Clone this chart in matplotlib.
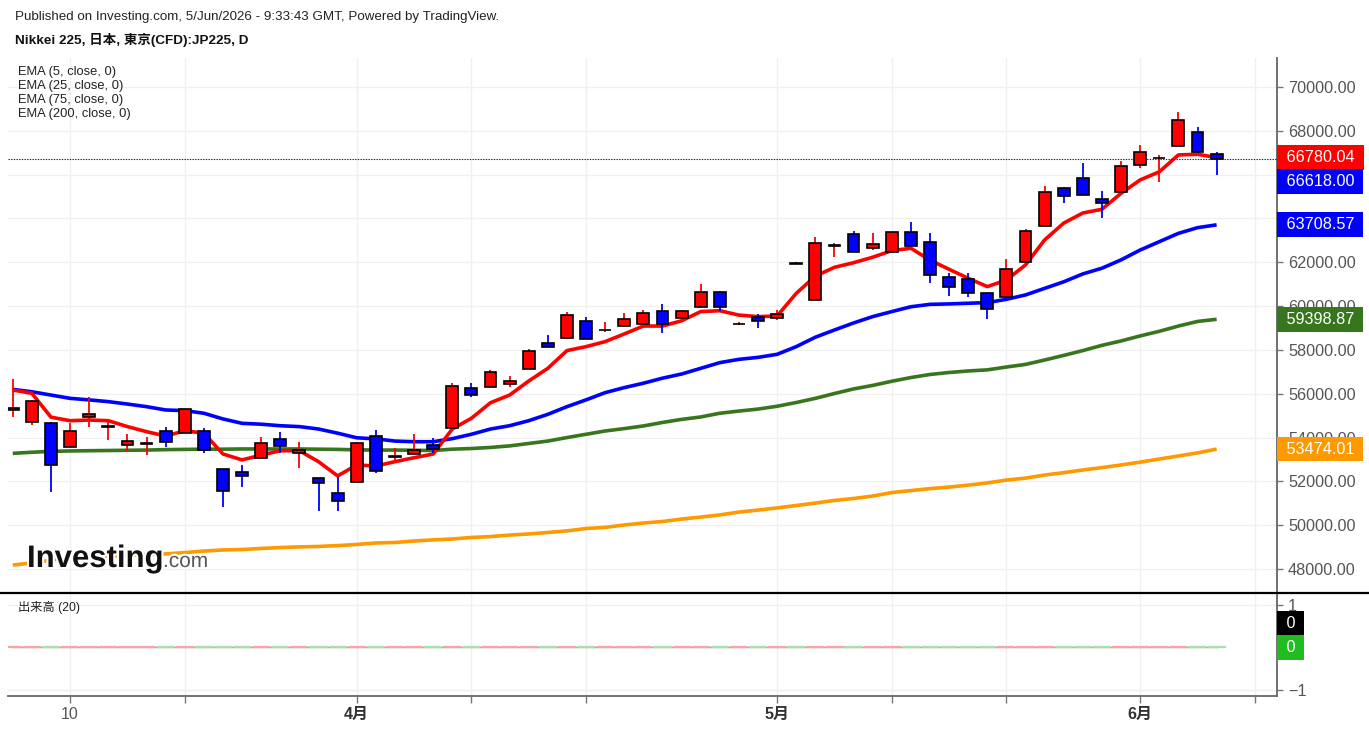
"""Nikkei 225 CFD daily candles with EMA 5/25/75/200 (investing.com style)"""

import matplotlib
matplotlib.use("Agg")
import matplotlib.pyplot as plt
import matplotlib.patheffects as pe
from matplotlib.lines import Line2D

# candles (yen)
opens = [55280, 54720, 54670, 53560, 54930, 54470, 53650, 53720, 54310, 54200,
         54310, 52550, 52420, 53080, 53920, 53280, 52140, 51460, 51990, 54090,
         53110, 53240, 53650, 54450, 56280, 56290, 56430, 57120, 58300, 58530,
         59330, 58890, 59110, 59180, 59790, 59440, 59950, 60630, 59170, 59520,
         59440, 61950, 60280, 62760, 63290, 62670, 62470, 63370, 62940, 61340,
         61220, 60610, 60400, 62000, 63670, 65380, 65830, 64890, 65190, 66430,
         66740, 67320, 67950, 66940]
highs = [56670, 55720, 54720, 54650, 55840, 54800, 54160, 54040, 54500, 55300,
         54420, 52550, 52750, 54040, 54270, 53810, 52160, 52210, 53800, 54350,
         53510, 54160, 53970, 56480, 56480, 57080, 56810, 58040, 58680, 59750,
         59490, 59290, 59670, 59820, 60100, 59800, 61010, 60700, 59260, 59630,
         59820, 62000, 63170, 62870, 63440, 63320, 63400, 63850, 63320, 61530,
         61530, 60620, 62150, 63510, 65500, 65420, 66550, 65250, 66620, 67350,
         66900, 68850, 68160, 67020]
lows = [54940, 54570, 51500, 53550, 54500, 53890, 53400, 53200, 53560, 54190,
        53280, 50820, 51760, 53070, 53280, 52600, 50660, 50660, 51970, 52370,
        52980, 53230, 53280, 54440, 55870, 56290, 56320, 57110, 58120, 58520,
        58480, 58800, 59090, 59170, 58760, 59440, 59940, 59790, 59150, 59020,
        59370, 61910, 60260, 62230, 62460, 62560, 62460, 62730, 61070, 60460,
        60400, 59400, 60390, 61990, 63660, 64690, 65050, 64010, 65190, 66320,
        65650, 67310, 67010, 65980]
closes = [55330, 55680, 52730, 54310, 55080, 54520, 53840, 53760, 53780, 55290,
          53430, 51580, 52260, 53770, 53620, 53430, 51940, 51110, 53770, 52470,
          53160, 53430, 53490, 56370, 55940, 57010, 56600, 57970, 58150, 59590,
          58490, 58930, 59400, 59670, 59180, 59790, 60630, 59970, 59200, 59320,
          59630, 61920, 62870, 62790, 62470, 62840, 63370, 62740, 61420, 60890,
          60610, 59880, 61710, 63430, 65220, 65040, 65060, 64720, 66400, 67020,
          66760, 68490, 67020, 66700]

ema5 = [56170, 56020, 54930, 54770, 54800, 54770, 54500, 54270, 54070, 54310,
        54200, 53250, 52980, 53200, 53400, 53400, 52900, 52250, 52750, 52700,
        52900, 53080, 53250, 54390, 54880, 55590, 55940, 56580, 57160, 57970,
        58150, 58380, 58730, 59090, 59090, 59330, 59750, 59790, 59590, 59520,
        59550, 60580, 61370, 61770, 61980, 62230, 62530, 62640, 62100, 61680,
        61270, 60890, 61190, 61880, 63020, 63790, 64250, 64420, 65150, 65760,
        66130, 66900, 66930, 66780.04]
ema25 = [56200, 56090, 55940, 55790, 55720, 55640, 55530, 55410, 55260, 55230,
         55110, 54850, 54650, 54610, 54540, 54500, 54390, 54200, 53990, 53940,
         53840, 53810, 53810, 53950, 54150, 54390, 54540, 54770, 55060, 55410,
         55720, 56050, 56280, 56480, 56710, 56900, 57160, 57420, 57570, 57660,
         57800, 58150, 58580, 58910, 59230, 59520, 59750, 59970, 60080, 60100,
         60130, 60160, 60310, 60510, 60810, 61110, 61470, 61730, 62110, 62560,
         62940, 63320, 63580, 63708.57]
ema75 = [53280, 53330, 53370, 53390, 53400, 53410, 53420, 53430, 53450, 53460,
         53470, 53470, 53480, 53480, 53480, 53480, 53470, 53460, 53440, 53430,
         53430, 53420, 53410, 53470, 53500, 53550, 53620, 53730, 53840, 54000,
         54150, 54300, 54410, 54530, 54690, 54830, 54940, 55110, 55210, 55300,
         55430, 55600, 55790, 56010, 56220, 56380, 56570, 56740, 56880, 56970,
         57040, 57090, 57220, 57340, 57540, 57750, 57970, 58210, 58410, 58640,
         58850, 59090, 59300, 59398.87]
ema200 = [48180, 48280, 48410, 48550, 48570, 48590, 48640, 48660, 48690, 48750,
          48820, 48870, 48890, 48940, 48980, 49010, 49030, 49070, 49120, 49190,
          49210, 49280, 49330, 49370, 49440, 49480, 49550, 49600, 49670, 49740,
          49850, 49900, 50010, 50100, 50170, 50280, 50370, 50470, 50600, 50690,
          50790, 50900, 51010, 51130, 51220, 51330, 51490, 51580, 51670, 51740,
          51830, 51930, 52060, 52150, 52290, 52400, 52520, 52630, 52750, 52880,
          53020, 53160, 53300, 53474.01]

# CFD has no volume
volume = [0, 0, 0, 0, 0, 0, 0, 0, 0, 0, 0, 0, 0, 0, 0, 0,
          0, 0, 0, 0, 0, 0, 0, 0, 0, 0, 0, 0, 0, 0, 0, 0,
          0, 0, 0, 0, 0, 0, 0, 0, 0, 0, 0, 0, 0, 0, 0, 0,
          0, 0, 0, 0, 0, 0, 0, 0, 0, 0, 0, 0, 0, 0, 0, 0]
volume_ma = volume

# x axis: bar index of each tick and its label
tick_pos = [3, 9, 18, 24, 30, 40, 46, 52, 59, 65]
tick_labels = ['10', '', '4月', '', '', '5月', '', '', '6月', '']
price_ticks = [48000, 50000, 52000, 54000, 56000, 58000, 60000, 62000,
               64000, 66000, 68000, 70000]
# 64000 and 66000 sit under the value boxes, so their text is not shown
hidden_ticks = [64000, 66000]

legend_lines = ['EMA (5, close, 0)', 'EMA (25, close, 0)',
                'EMA (75, close, 0)', 'EMA (200, close, 0)']
last_labels = [('66780.04', 66780.04, 0, '#ff0000'),
               ('66618.00', 66780.04, -24, '#0000ff'),
               ('63708.57', 63708.57, 0, '#0000ff'),
               ('59398.87', 59398.87, 0, '#38761d'),
               ('53474.01', 53474.01, 0, '#ff9900')]

UP, DOWN = '#ff0000', '#0000ff'
LATIN = 'Liberation Sans'
CJK = [LATIN, 'Noto Sans CJK JP']

plt.rcParams['font.family'] = CJK

W, H = 1369, 730
fig = plt.figure(figsize=(W / 100, H / 100), dpi=100)
ax = fig.add_axes([8 / W, 137 / H, 1269 / W, 535 / H])
ax2 = fig.add_axes([8 / W, 34 / H, 1269 / W, 103 / H], sharex=ax)

idx = list(range(len(closes)))
up = [c >= o for o, c in zip(opens, closes)]
wick_col = [UP if u else DOWN for u in up]

# grid
for a in (ax, ax2):
    for t in tick_pos:
        a.axvline(t, color='#f0f0f0', lw=1, zorder=0)
for p in price_ticks:
    ax.axhline(p, color='#f0f0f0', lw=1, zorder=0)
for p in (1, -1):
    ax2.axhline(p, color='#f0f0f0', lw=1, zorder=0)

# EMA lines
ax.plot(idx, ema200, color='#ff9900', lw=2.6, zorder=2, solid_capstyle='butt')
ax.plot(idx, ema75, color='#38761d', lw=2.6, zorder=2, solid_capstyle='butt')
ax.plot(idx, ema25, color='#0000ff', lw=2.6, zorder=2, solid_capstyle='butt')
ax.plot(idx, ema5, color='#ff0000', lw=2.6, zorder=2, solid_capstyle='butt')

# candles
ax.vlines(idx, lows, highs, colors=wick_col, lw=1.3, zorder=3)
body_bottom = [min(o, c) for o, c in zip(opens, closes)]
body_height = [abs(c - o) for o, c in zip(opens, closes)]
ax.bar(idx, body_height, bottom=body_bottom, width=0.62, color=wick_col,
       edgecolor='black', linewidth=1.2, zorder=4)

# last price line
ax.axhline(closes[-1], color='#0000ff', lw=0.8, ls=(0, (1.2, 1.2)), zorder=3)

ax.set_xlim(-0.25, 66.16)
ax.set_ylim(46906, 71324)
ax.yaxis.tick_right()
ax.set_yticks(price_ticks)
ax.set_yticklabels(['' if p in hidden_ticks else f'{p:.2f}' for p in price_ticks])
ax.tick_params(axis='y', colors='#777777', labelcolor='#555555', length=4,
               width=1, pad=4, labelsize=11.7)
ax.tick_params(axis='x', bottom=False, labelbottom=False)
for lbl in ax.get_yticklabels():
    lbl.set_family(LATIN)
for s in ('top', 'left', 'bottom'):
    ax.spines[s].set_visible(False)
ax.spines['right'].set_color('#666666')
ax.spines['right'].set_linewidth(1.3)


def value_box(axis, text, val, dy, col):
    axis.annotate(' ' + text + ' ', xy=(1, val),
                  xycoords=axis.get_yaxis_transform(),
                  xytext=(3.3, dy * 0.72), textcoords='offset points',
                  ha='left', va='center', color='white', fontsize=11.7,
                  family=LATIN, annotation_clip=False, zorder=10,
                  bbox=dict(boxstyle='square,pad=0.3', fc=col, ec='none'))


for text, val, dy, col in last_labels:
    value_box(ax, text, val, dy, col)

for i, t in enumerate(legend_lines):
    fig.text(18 / W, 1 - (72 + 14 * i) / H, t, fontsize=9.3, family=LATIN,
             color='#222222', va='center', ha='left')

# volume panel
vol_col = ['#f4a6a6' if u else '#a8e0a8' for u in up]
ax2.bar(idx, volume, width=0.95, color=vol_col, edgecolor=vol_col,
        linewidth=1.6, zorder=3)
ax2.plot(idx, volume_ma, color='#a0a0a0', lw=1.0, zorder=2)
ax2.set_ylim(-1.14, 1.28)
ax2.yaxis.tick_right()
ax2.set_yticks([1, -1])
ax2.set_yticklabels(['1', '\u22121'])
ax2.tick_params(axis='y', colors='#777777', labelcolor='#555555', length=4,
                width=1, pad=4, labelsize=11.7)
ax2.set_xticks(tick_pos)
ax2.set_xticklabels(tick_labels)
ax2.tick_params(axis='x', colors='#777777', labelcolor='#555555', length=5,
                width=1, pad=3, labelsize=11.5)
for lbl, txt in zip(ax2.get_xticklabels(), tick_labels):
    if '月' in txt:
        lbl.set_fontweight('bold')
        lbl.set_color('#333333')
for s in ('top', 'left'):
    ax2.spines[s].set_visible(False)
for s in ('right', 'bottom'):
    ax2.spines[s].set_color('#666666')
    ax2.spines[s].set_linewidth(1.3)

value_box(ax2, '0', 0, 24, 'black')
value_box(ax2, '0', 0, 0, '#22bb22')

fig.text(18 / W, 1 - 608 / H, '出来高 (20)', fontsize=8.8, color='#222222',
         va='center', ha='left', family=CJK)

# separator between panels
fig.add_artist(Line2D([0, 1], [137 / H, 137 / H], color='black', lw=1.6,
                      transform=fig.transFigure))

# header
fig.text(15 / W, 1 - 17 / H, 'Published on Investing.com, 5/Jun/2026 - 9:33:43 GMT, '
         'Powered by TradingView.', fontsize=9.6, family=LATIN, color='#222222',
         va='center', ha='left')
fig.text(15 / W, 1 - 40 / H, 'Nikkei 225, 日本, 東京(CFD):JP225, D', fontsize=9.7,
         weight='bold', family=CJK, color='#111111', va='center', ha='left')

# logo
halo = [pe.withStroke(linewidth=3, foreground='white')]
fig.text(27 / W, 1 - 567 / H, 'Investing', fontsize=22.4, weight='bold',
         family=LATIN, color='#111111', va='baseline', ha='left',
         path_effects=halo, zorder=20)
fig.text(163 / W, 1 - 567 / H, '.com', fontsize=15, family=LATIN,
         color='#555555', va='baseline', ha='left', path_effects=halo,
         zorder=20)

fig.savefig('out.png', dpi=100)
